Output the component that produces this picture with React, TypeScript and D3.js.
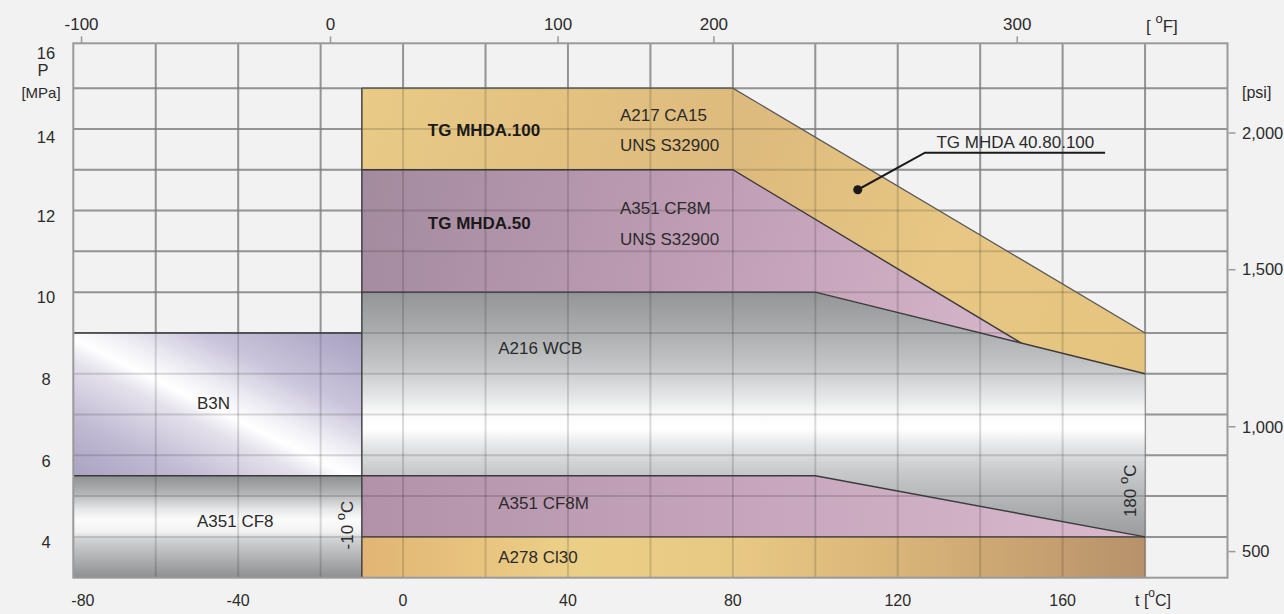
import React from "react";
import * as d3 from "d3";

type Pt = { t: number; p: number };

// ---- axes / ticks ----
const tMin = -80;
const tMax = 200;
const pMin = 3;
const pMax = 16.1;
const celsiusTicks = [-80, -40, 0, 40, 80, 120, 160];
const celsiusGrid = [-60, -40, -20, 0, 20, 40, 60, 80, 100, 120, 140, 160, 180];
const mpaGrid = [4, 5, 6, 7, 8, 9, 10, 11, 12, 13, 14, 15];
const mpaTicks = [4, 6, 8, 10, 12, 14, 16];
const fahrenheitLabels = ["-100", "0", "100", "200", "300"];
const fahrenheitAtCelsius = [-78, -17.6, 37.6, 75.4, 149];
const psiLabels = ["500", "1,000", "1,500", "2,000"];
const psiAtMpa = [3.64, 6.7, 10.55, 13.9];

// ---- material boundary lines (t in °C, p in MPa) ----
const ca15Top: Pt[] = [{ t: -10, p: 15 }, { t: 80, p: 15 }, { t: 180, p: 9 }];
const cf8mUpperTop: Pt[] = [{ t: -10, p: 13 }, { t: 80, p: 13 }, { t: 150, p: 8.75 }];
const wcbTop: Pt[] = [{ t: -10, p: 10 }, { t: 100, p: 10 }, { t: 180, p: 8 }];
const cf8mLowerTop: Pt[] = [{ t: -10, p: 5.5 }, { t: 100, p: 5.5 }, { t: 180, p: 4 }];
const cl30Top: Pt[] = [{ t: -10, p: 4 }, { t: 180, p: 4 }];
const b3nTop: Pt[] = [{ t: -80, p: 9 }, { t: -10, p: 9 }];
const cf8Top: Pt[] = [{ t: -80, p: 5.5 }, { t: -10, p: 5.5 }];

// ---- labels ----
const materialLabels = [
  { text: "TG MHDA.100", t: 6, p: 13.98, bold: true },
  { text: "A217 CA15", t: 52.6, p: 14.35, bold: false },
  { text: "UNS S32900", t: 52.6, p: 13.6, bold: false },
  { text: "TG MHDA.50", t: 6, p: 11.69, bold: true },
  { text: "A351 CF8M", t: 52.6, p: 12.06, bold: false },
  { text: "UNS S32900", t: 52.6, p: 11.3, bold: false },
  { text: "A216 WCB", t: 23.1, p: 8.63, bold: false },
  { text: "B3N", t: -50, p: 7.28, bold: false },
  { text: "A351 CF8", t: -50, p: 4.4, bold: false },
  { text: "A351 CF8M", t: 23.1, p: 4.82, bold: false },
  { text: "A278 Cl30", t: 23.1, p: 3.51, bold: false },
];
const limitLabels = [
  { value: "-10", t: -10, p: 4.29 },
  { value: "180", t: 180, p: 5.13 },
];
const calloutPath: Pt[] = [{ t: 110.3, p: 12.51 }, { t: 126.6, p: 13.42 }, { t: 170.3, p: 13.42 }];
const calloutLabel = { text: "TG MHDA 40.80.100", t: 129.4, p: 13.69 };

const FONT = "'Liberation Sans', Arial, Helvetica, sans-serif";
const TXT = "#2b2b2b";

export default function App() {
  const W = 1284;
  const H = 614;
  const x = d3.scaleLinear().domain([tMin, tMax]).range([73.3, 1227.5]);
  const y = d3.scaleLinear().domain([pMin, pMax]).range([577.7, 43.3]);
  const line = d3.line<Pt>().x((d) => x(d.t)).y((d) => y(d.p));
  const band = (top: Pt[], bottom: Pt[]) => (line([...top, ...bottom.slice().reverse()]) || "") + "Z";
  const floor = (top: Pt[]): Pt[] => [
    { t: top[0].t, p: pMin },
    { t: top[top.length - 1].t, p: pMin },
  ];
  const last = (a: Pt[]) => a[a.length - 1];

  const ca15Bottom = [...cf8mUpperTop, ...wcbTop.filter((d) => d.t > last(cf8mUpperTop).t)];
  const cf8mUpperBottom = [...wcbTop.filter((d) => d.t < last(cf8mUpperTop).t), last(cf8mUpperTop)];

  const x0 = x(tMin), x1 = x(tMax), y0 = y(pMin), y1 = y(pMax);

  return (
    <svg
      width={W}
      height={H}
      style={{ position: "absolute", left: 0, top: 0, background: "#f2f2f2" }}
      fontFamily={FONT}
    >
      <defs>
        <linearGradient id="gCa15" gradientUnits="userSpaceOnUse" x1={x(-10)} y1={y(15)} x2={x(180)} y2={y(8)}>
          <stop offset="0" stopColor="#e9ca86" />
          <stop offset="0.45" stopColor="#ddba7d" />
          <stop offset="0.72" stopColor="#e7c783" />
          <stop offset="1" stopColor="#e5c480" />
        </linearGradient>
        <linearGradient id="gCf8mU" gradientUnits="userSpaceOnUse" x1={x(-10)} y1={y(13)} x2={x(150)} y2={y(9)}>
          <stop offset="0" stopColor="#a38b9e" />
          <stop offset="0.5" stopColor="#bf9db5" />
          <stop offset="1" stopColor="#d6b6cb" />
        </linearGradient>
        <linearGradient id="gWcb" gradientUnits="userSpaceOnUse" x1={0} y1={y(10)} x2={0} y2={y(4)}>
          <stop offset="0" stopColor="#939597" />
          <stop offset="0.15" stopColor="#a9abad" />
          <stop offset="0.3" stopColor="#c3c5c7" />
          <stop offset="0.42" stopColor="#e3e4e5" />
          <stop offset="0.5" stopColor="#fbfbfb" />
          <stop offset="0.56" stopColor="#ffffff" />
          <stop offset="0.63" stopColor="#e4e5e6" />
          <stop offset="0.73" stopColor="#c8cacc" />
          <stop offset="0.86" stopColor="#b0b2b4" />
          <stop offset="1" stopColor="#9a9c9e" />
        </linearGradient>
        <linearGradient id="gCf8" gradientUnits="userSpaceOnUse" x1={0} y1={y(5.5)} x2={0} y2={y(3)}>
          <stop offset="0" stopColor="#8e9092" />
          <stop offset="0.18" stopColor="#b4b6b8" />
          <stop offset="0.33" stopColor="#e6e7e8" />
          <stop offset="0.43" stopColor="#fbfbfb" />
          <stop offset="0.55" stopColor="#f2f2f2" />
          <stop offset="0.63" stopColor="#d0d1d2" />
          <stop offset="0.8" stopColor="#b1b3b5" />
          <stop offset="1" stopColor="#8d8f91" />
        </linearGradient>
        <linearGradient id="gB3n" x1="1" y1="0" x2="0" y2="1">
          <stop offset="0" stopColor="#a8a0c0" />
          <stop offset="0.28" stopColor="#c9c4db" />
          <stop offset="0.45" stopColor="#f2f1f6" />
          <stop offset="0.52" stopColor="#ffffff" />
          <stop offset="0.6" stopColor="#e4e1ec" />
          <stop offset="0.8" stopColor="#c0bad3" />
          <stop offset="1" stopColor="#a9a2c2" />
        </linearGradient>
        <linearGradient id="gCf8mL" gradientUnits="userSpaceOnUse" x1={x(-10)} y1={0} x2={x(180)} y2={0}>
          <stop offset="0" stopColor="#b292a8" />
          <stop offset="0.5" stopColor="#c7a6bd" />
          <stop offset="1" stopColor="#d8b9cc" />
        </linearGradient>
        <linearGradient id="gCl30" gradientUnits="userSpaceOnUse" x1={x(-10)} y1={0} x2={x(180)} y2={0}>
          <stop offset="0" stopColor="#e2b574" />
          <stop offset="0.26" stopColor="#eccf87" />
          <stop offset="0.47" stopColor="#e8c984" />
          <stop offset="0.68" stopColor="#dab579" />
          <stop offset="0.89" stopColor="#c49e70" />
          <stop offset="1" stopColor="#b6916b" />
        </linearGradient>
      </defs>

      {/* background grid */}
      <g stroke="#adadad" strokeWidth={2}>
        {celsiusGrid.map((t) => (
          <line key={"bx" + t} x1={x(t)} x2={x(t)} y1={y0} y2={y1} />
        ))}
        {mpaGrid.map((p) => (
          <line key={"by" + p} x1={x0} x2={x1} y1={y(p)} y2={y(p)} />
        ))}
      </g>

      {/* material regions */}
      <path d={band(ca15Top, ca15Bottom)} fill="url(#gCa15)" />
      <path d={band(cf8mUpperTop, cf8mUpperBottom)} fill="url(#gCf8mU)" />
      <path d={band(wcbTop, cf8mLowerTop)} fill="url(#gWcb)" />
      <path d={band(cf8mLowerTop, cl30Top)} fill="url(#gCf8mL)" />
      <path d={band(cl30Top, floor(cl30Top))} fill="url(#gCl30)" />
      <path d={band(b3nTop, cf8Top)} fill="url(#gB3n)" />
      <path d={band(cf8Top, floor(cf8Top))} fill="url(#gCf8)" />

      {/* grid overlay */}
      <g stroke="rgba(0,0,0,0.14)" strokeWidth={2}>
        {celsiusGrid.map((t) => (
          <line key={"ox" + t} x1={x(t)} x2={x(t)} y1={y0} y2={y1} />
        ))}
        {mpaGrid.map((p) => (
          <line key={"oy" + p} x1={x0} x2={x1} y1={y(p)} y2={y(p)} />
        ))}
      </g>

      {/* outlines */}
      <g fill="none" stroke="#3a3a3a" strokeWidth={1.4}>
        <path d={line(ca15Top) || ""} stroke="#555" strokeWidth={1.2} />
        <path d={line(cf8mUpperTop) || ""} />
        <path d={line(wcbTop) || ""} />
        <path d={line(cf8mLowerTop) || ""} />
        <path d={line(cl30Top) || ""} />
        <path d={line(b3nTop) || ""} />
        <path d={line(cf8Top) || ""} />
        <path d={line([{ t: -10, p: pMin }, { t: -10, p: ca15Top[0].p }]) || ""} />
      </g>

      {/* frame */}
      <rect x={x0} y={y1} width={x1 - x0} height={y0 - y1} fill="none" stroke="#9a9a9a" strokeWidth={2} />

      {/* bottom axis (°C) */}
      <g fill={TXT} fontSize={16}>
        {celsiusTicks.map((t, i) => (
          <text key={"ct" + t} x={i === 0 ? x(t) - 2 : x(t)} y={606} textAnchor={i === 0 ? "start" : "middle"}>
            {t}
          </text>
        ))}
        <text x={1135} y={606}>
          t [<tspan dy={-9} fontSize={12}>o</tspan>
          <tspan dy={9}>C]</tspan>
        </text>
      </g>

      {/* top axis (°F) */}
      <g>
        {fahrenheitAtCelsius.map((t, i) => (
          <g key={"ft" + i}>
            <line x1={x(t)} x2={x(t)} y1={y1} y2={y1 - 7} stroke="#9a9a9a" strokeWidth={1.5} />
            <text x={x(t)} y={29.5} textAnchor="middle" fontSize={17} fill={TXT}>
              {fahrenheitLabels[i]}
            </text>
          </g>
        ))}
        <text x={1146} y={32} fontSize={17} fill={TXT}>
          [ <tspan dy={-9} fontSize={13}>o</tspan>
          <tspan dy={9}>F]</tspan>
        </text>
      </g>

      {/* left axis (MPa) */}
      <g fill={TXT} fontSize={16.5} textAnchor="middle">
        {mpaTicks.map((p) => (
          <text key={"mp" + p} x={46} y={y(p) + (p === 14 ? 8.5 : 5.5)} dy="0.35em">
            {p}
          </text>
        ))}
        <text x={43} y={70} dy="0.35em">P</text>
        <text x={41} y={92.5} dy="0.35em" fontSize={15}>[MPa]</text>
      </g>

      {/* right axis (psi) */}
      <g fill={TXT} fontSize={16.5}>
        {psiAtMpa.map((p, i) => (
          <g key={"psi" + i}>
            <line x1={x1 + 1} x2={x1 + 8} y1={y(p)} y2={y(p)} stroke="#9a9a9a" strokeWidth={1.5} />
            <text x={1242} y={y(p)} dy="0.35em">
              {psiLabels[i]}
            </text>
          </g>
        ))}
        <text x={1242} y={92} dy="0.35em" fontSize={16}>[psi]</text>
      </g>

      {/* material labels */}
      <g fill={TXT} fontSize={17}>
        {materialLabels.map((l, i) => (
          <text
            key={"ml" + i}
            x={x(l.t)}
            y={y(l.p)}
            dy="0.35em"
            fontWeight={l.bold ? "bold" : "normal"}
            fill={l.bold ? "#1a1a1a" : TXT}
          >
            {l.text}
          </text>
        ))}
        {limitLabels.map((l, i) => (
          <text
            key={"ll" + i}
            transform={`translate(${x(l.t) - 15},${y(l.p)}) rotate(-90)`}
            textAnchor="middle"
            dy="0.35em"
          >
            {l.value} <tspan dy={-8} fontSize={13}>o</tspan>
            <tspan dy={8}>C</tspan>
          </text>
        ))}
      </g>

      {/* callout */}
      <path d={line(calloutPath) || ""} fill="none" stroke="#1a1a1a" strokeWidth={2} />
      <circle cx={x(calloutPath[0].t)} cy={y(calloutPath[0].p)} r={4.5} fill="#1a1a1a" />
      <text x={x(calloutLabel.t)} y={y(calloutLabel.p)} dy="0.35em" fontSize={17} fill={TXT}>
        {calloutLabel.text}
      </text>
    </svg>
  );
}
